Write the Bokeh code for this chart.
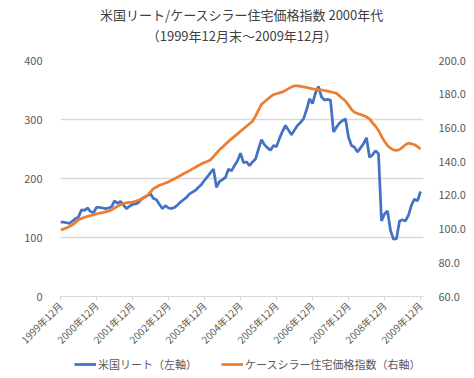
from bokeh.plotting import figure
from bokeh.models import (Range1d, LinearAxis, FixedTicker, Title, Legend, LegendItem,
                          ColumnDataSource, NumeralTickFormatter)
from bokeh.layouts import column
from bokeh.embed import file_html
from bokeh.resources import INLINE
import math

# Month index 0 = 1999年12月 ... 120 = 2009年12月
tick_months = [0, 12, 24, 36, 48, 60, 72, 84, 96, 108, 120]
tick_labels = ["1999年12月", "2000年12月", "2001年12月", "2002年12月", "2003年12月",
               "2004年12月", "2005年12月", "2006年12月", "2007年12月", "2008年12月",
               "2009年12月"]

title_main = "米国リート/ケースシラー住宅価格指数 2000年代"
title_sub = "（1999年12月末～2009年12月）"
series_names = ["米国リート（左軸）", "ケースシラー住宅価格指数（右軸）"]

reit = [126, 126, 125, 124, 128, 132, 135, 147, 146, 150, 144, 142,
        151, 151, 150, 149, 150, 152, 162, 158, 161, 155, 149, 153,
        156, 157, 159, 165, 168, 171, 174, 166, 164, 156, 149, 154,
        150, 149, 151, 155, 160, 164, 168, 174, 177, 180, 185, 190,
        197, 203, 210, 216, 185, 195, 198, 202, 216, 213, 222, 230,
        243, 227, 228, 222, 228, 233, 250, 266, 257, 252, 248, 256,
        254, 268, 280, 290, 282, 274, 282, 290, 295, 301, 316, 335,
        327, 345, 356, 338, 333, 334, 333, 279, 287, 294, 298, 301,
        270, 256, 253, 245, 252, 259, 269, 236, 240, 247, 242, 128,
        140, 145, 112, 97, 98, 128, 130, 128, 138, 155, 165, 162,
        178]

case_shiller = [99.5, 100.0, 100.7, 101.5, 102.5, 104.0, 105.5, 106.3, 107.0, 107.5, 108.0, 108.5,
                109.0, 109.4, 109.8, 110.2, 110.6, 111.5, 112.5, 113.5, 114.5, 115.2, 115.5, 115.8,
                116.0, 116.5, 117.0, 118.0, 119.0, 120.0, 122.0, 124.0, 125.0, 126.0, 126.6, 127.3,
                128.0, 129.0, 129.8, 130.8, 131.8, 132.8, 133.7, 134.7, 135.7, 136.7, 137.7, 138.7,
                139.5, 140.2, 141.0, 143.0, 145.0, 147.0, 148.6, 150.3, 152.0, 153.5, 155.0, 156.5,
                158.0, 159.5, 161.0, 162.5, 164.0, 167.0, 170.5, 174.0, 175.5, 177.0, 178.5, 179.8,
                180.3, 180.8, 181.3, 182.3, 183.3, 184.3, 185.0, 185.0, 184.6, 184.3, 184.0, 183.6,
                183.2, 183.0, 182.7, 182.5, 182.2, 181.8, 181.4, 181.0, 180.5, 179.0, 177.5, 176.0,
                173.5, 171.0, 169.3, 168.5, 168.0, 167.4, 166.5, 165.4, 163.0, 161.0, 158.5, 155.0,
                152.0, 149.6, 148.0, 147.0, 146.6, 147.2, 148.5, 150.0, 151.0, 150.5, 150.0, 149.0,
                147.5]

months = list(range(len(reit)))

FONT = "Noto Sans CJK JP"
TXT = "#595959"
GRID = "#d9d9d9"
BLUE = "#4472C4"
ORANGE = "#ED7D31"

p = figure(frame_width=363, frame_height=236, output_backend="svg", toolbar_location=None,
           title=None, x_range=Range1d(0, 121), y_range=Range1d(0, 400),
           min_border_left=60, min_border_right=51, min_border_top=60, min_border_bottom=50)
p.outline_line_color = None
p.background_fill_color = "white"
p.border_fill_color = "white"

p.extra_y_ranges = {"right": Range1d(60, 200)}

src = ColumnDataSource(dict(m=months, reit=reit, cs=case_shiller))
p.line("m", "reit", source=src, line_color=BLUE, line_width=2.75)
p.line("m", "cs", source=src, line_color=ORANGE, line_width=2.75, y_range_name="right")

# x axis
xa = p.xaxis[0]
xa.ticker = FixedTicker(ticks=tick_months)
xa.major_label_overrides = {m: l for m, l in zip(tick_months, tick_labels)}
xa.major_label_orientation = math.pi / 4
xa.axis_line_color = GRID
xa.major_tick_line_color = GRID
xa.major_tick_out = 4
xa.major_tick_in = 0
xa.minor_tick_line_color = None
xa.major_label_text_font = FONT
xa.major_label_text_font_size = "10px"
xa.major_label_text_color = TXT
xa.major_label_standoff = 3

# left axis
ya = p.yaxis[0]
ya.ticker = FixedTicker(ticks=[0, 100, 200, 300, 400])
ya.axis_line_color = None
ya.major_tick_line_color = None
ya.minor_tick_line_color = None
ya.major_label_text_font = FONT
ya.major_label_text_font_size = "11px"
ya.major_label_text_color = TXT
ya.major_label_standoff = 12

# right axis
ra = LinearAxis(y_range_name="right", ticker=FixedTicker(ticks=[60, 80, 100, 120, 140, 160, 180, 200]),
                formatter=NumeralTickFormatter(format="0.0"))
ra.axis_line_color = None
ra.major_tick_line_color = None
ra.minor_tick_line_color = None
ra.major_label_text_font = FONT
ra.major_label_text_font_size = "11px"
ra.major_label_text_color = TXT
ra.major_label_standoff = 9
p.add_layout(ra, "right")

p.xgrid.grid_line_color = None
p.ygrid.ticker = FixedTicker(ticks=[100, 200, 300, 400])
p.ygrid.grid_line_color = GRID
p.ygrid.grid_line_width = 1.5

# two-line title, lifted off the frame by a thin spacer title
spacer = Title(text=" ", align="center", text_font=FONT, text_font_size="1px", standoff=12)
sub = Title(text=title_sub, align="center", text_font=FONT, text_font_size="13px",
            text_font_style="normal", text_color="#404040", standoff=1)
main = Title(text=title_main, align="center", text_font=FONT, text_font_size="13px",
             text_font_style="normal", text_color="#404040", standoff=0)
p.add_layout(spacer, "above")
p.add_layout(sub, "above")
p.add_layout(main, "above")

# legend strip below the chart (its frame is aligned with the chart frame by the column)
lg = figure(width=474, height=25, output_backend="svg", toolbar_location=None, title=None,
            x_range=Range1d(0, 1), y_range=Range1d(0, 1), x_axis_type=None, y_axis_type=None,
            min_border=0)
lg.outline_line_color = None
lg.grid.grid_line_color = None
# series drawn far outside this strip's ranges; only their legend keys show
k1 = lg.line(months, reit, line_color=BLUE, line_width=2.75)
k2 = lg.line(months, case_shiller, line_color=ORANGE, line_width=2.75)
legend = Legend(items=[LegendItem(label=series_names[0], renderers=[k1]),
                       LegendItem(label=series_names[1], renderers=[k2])],
                orientation="horizontal", location=(14, 7),
                label_text_font=FONT, label_text_font_size="11px", label_text_color=TXT,
                glyph_width=22, glyph_height=12, spacing=24, padding=0, margin=0,
                label_standoff=2, border_line_color=None, background_fill_alpha=0)
lg.add_layout(legend, "center")

layout = column(p, lg, spacing=0)
open("out.html", "w").write(file_html(layout, INLINE))
